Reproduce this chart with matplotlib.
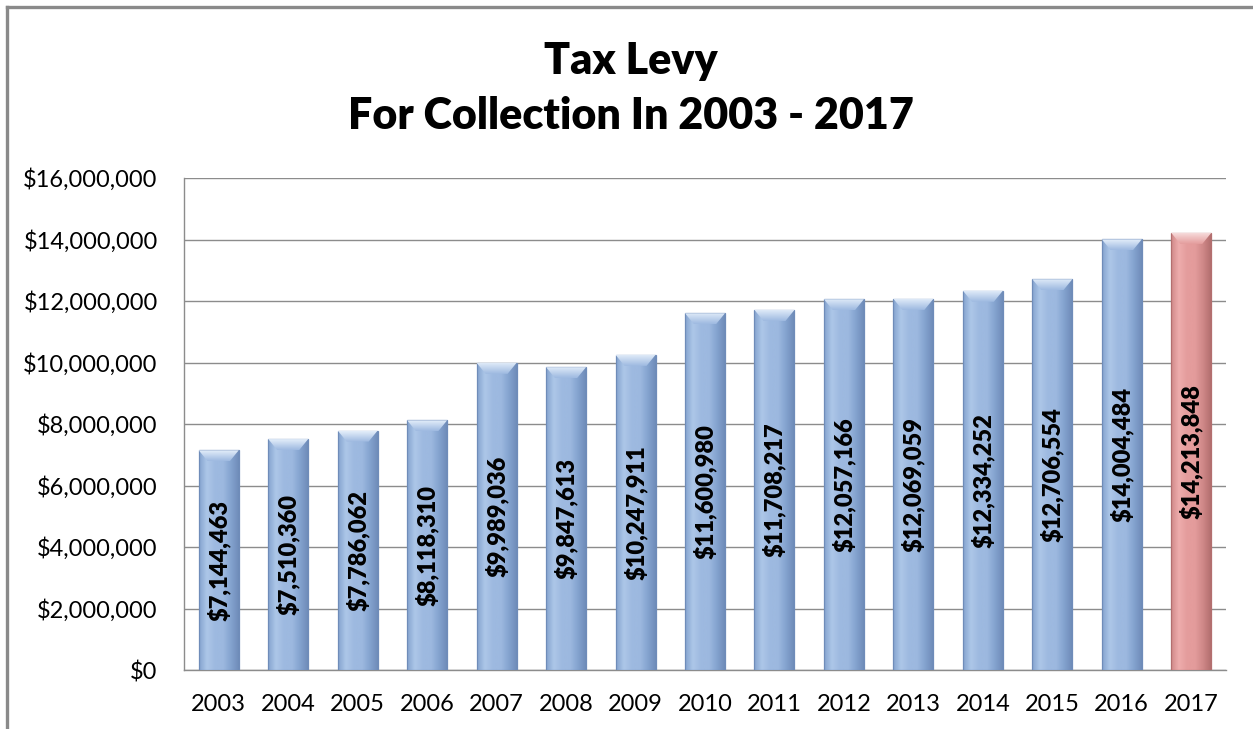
import numpy as np
import matplotlib
matplotlib.use("Agg")
import matplotlib.pyplot as plt
from matplotlib.colors import LinearSegmentedColormap
from matplotlib.patches import Polygon
from matplotlib.ticker import FuncFormatter, MultipleLocator
from matplotlib.lines import Line2D

years = ["2003", "2004", "2005", "2006", "2007", "2008", "2009", "2010",
         "2011", "2012", "2013", "2014", "2015", "2016", "2017"]
levy = [7144463, 7510360, 7786062, 8118310, 9989036, 9847613, 10247911,
        11600980, 11708217, 12057166, 12069059, 12334252, 12706554,
        14004484, 14213848]
title_lines = ["Tax Levy", "For Collection In 2003 - 2017"]

plt.rcParams["font.family"] = ["Lato", "DejaVu Sans"]

fig = plt.figure(figsize=(12.53, 7.29), dpi=100)
ax = fig.add_axes([184 / 1253, 59 / 729, 1042 / 1253, 492 / 729])

# Chart frame (top and left edges)
frame_col = "#8a8a8a"
fig.add_artist(Line2D([7 / 1253, 1.0], [1 - 7 / 729, 1 - 7 / 729],
                      transform=fig.transFigure, color=frame_col, lw=2.4))
fig.add_artist(Line2D([7 / 1253, 7 / 1253], [0.0, 1 - 7 / 729],
                      transform=fig.transFigure, color=frame_col, lw=2.4))

x = np.arange(len(years))
width = 0.575
ymax = 16_000_000

blue = dict(edge="#6f8cb9", side="#84a3cf", mid="#adc7e8", face="#9db9e0",
            cap_top="#e4eefa")
pink = dict(edge="#b36f6f", side="#cf8888", mid="#eeadad", face="#e49c9c",
            cap_top="#f8e0e0")

bars = ax.bar(x, levy, width=width, color="none", edgecolor="none", zorder=3)

px_x = 1042 / len(years)          # pixels per category
px_y = 492 / ymax                 # pixels per value unit
cap_dx = 9 / px_x
cap_dy = 11 / px_y

for i, (b, v) in enumerate(zip(bars, levy)):
    c = pink if years[i] == "2017" else blue
    x0 = b.get_x()
    x1 = x0 + b.get_width()
    # horizontal shading across the bar body
    cmap = LinearSegmentedColormap.from_list(
        "body", [c["side"], c["mid"], c["face"], c["face"], c["side"], c["edge"]])
    grad = np.linspace(0, 1, 256).reshape(1, -1)
    im = ax.imshow(grad, extent=[x0, x1, 0, v], aspect="auto", cmap=cmap,
                   zorder=3, interpolation="bicubic")
    im.set_clip_path(b)
    b.set_edgecolor(c["edge"])
    b.set_linewidth(0.9)
    b.set_zorder(4)
    # bevelled top
    cap = Polygon([[x0, v], [x1, v], [x1 - cap_dx, v - cap_dy],
                   [x0 + cap_dx, v - cap_dy]], closed=True,
                  facecolor="none", edgecolor="none", zorder=5)
    ax.add_patch(cap)
    cmap_cap = LinearSegmentedColormap.from_list("cap", [c["face"], c["cap_top"]])
    vgrad = np.linspace(0, 1, 64).reshape(-1, 1)
    im2 = ax.imshow(vgrad, extent=[x0, x1, v - cap_dy, v], aspect="auto",
                    cmap=cmap_cap, origin="lower", zorder=5,
                    interpolation="bicubic")
    im2.set_clip_path(cap)
    # value label
    ax.text(x[i], v / 2, f"${v:,.0f}", rotation=90, ha="center", va="center",
            fontsize=17, fontweight="heavy", color="black", zorder=6)

ax.set_xlim(-0.5, len(years) - 0.5)
ax.set_ylim(0, ymax)
ax.set_xticks(x)
ax.set_xticklabels(years)
ax.yaxis.set_major_locator(MultipleLocator(2_000_000))
ax.yaxis.set_major_formatter(FuncFormatter(lambda v, p: f"${v:,.0f}"))
ax.tick_params(axis="both", length=0, labelsize=17, colors="black")
ax.tick_params(axis="y", pad=19)
ax.tick_params(axis="x", pad=17)

ax.grid(axis="y", color="#8c8c8c", lw=1.0, zorder=0)
ax.set_axisbelow(True)
for side in ["top", "right"]:
    ax.spines[side].set_visible(False)
for side in ["left", "bottom"]:
    ax.spines[side].set_color("#8c8c8c")
    ax.spines[side].set_linewidth(1.0)

fig.text(631 / 1253, 1 - 61 / 729, title_lines[0], ha="center", va="center",
         fontsize=31, fontweight="heavy")
fig.text(631 / 1253, 1 - 116 / 729, title_lines[1], ha="center", va="center",
         fontsize=31, fontweight="heavy")

fig.savefig("out.png", dpi=100, facecolor="white")
